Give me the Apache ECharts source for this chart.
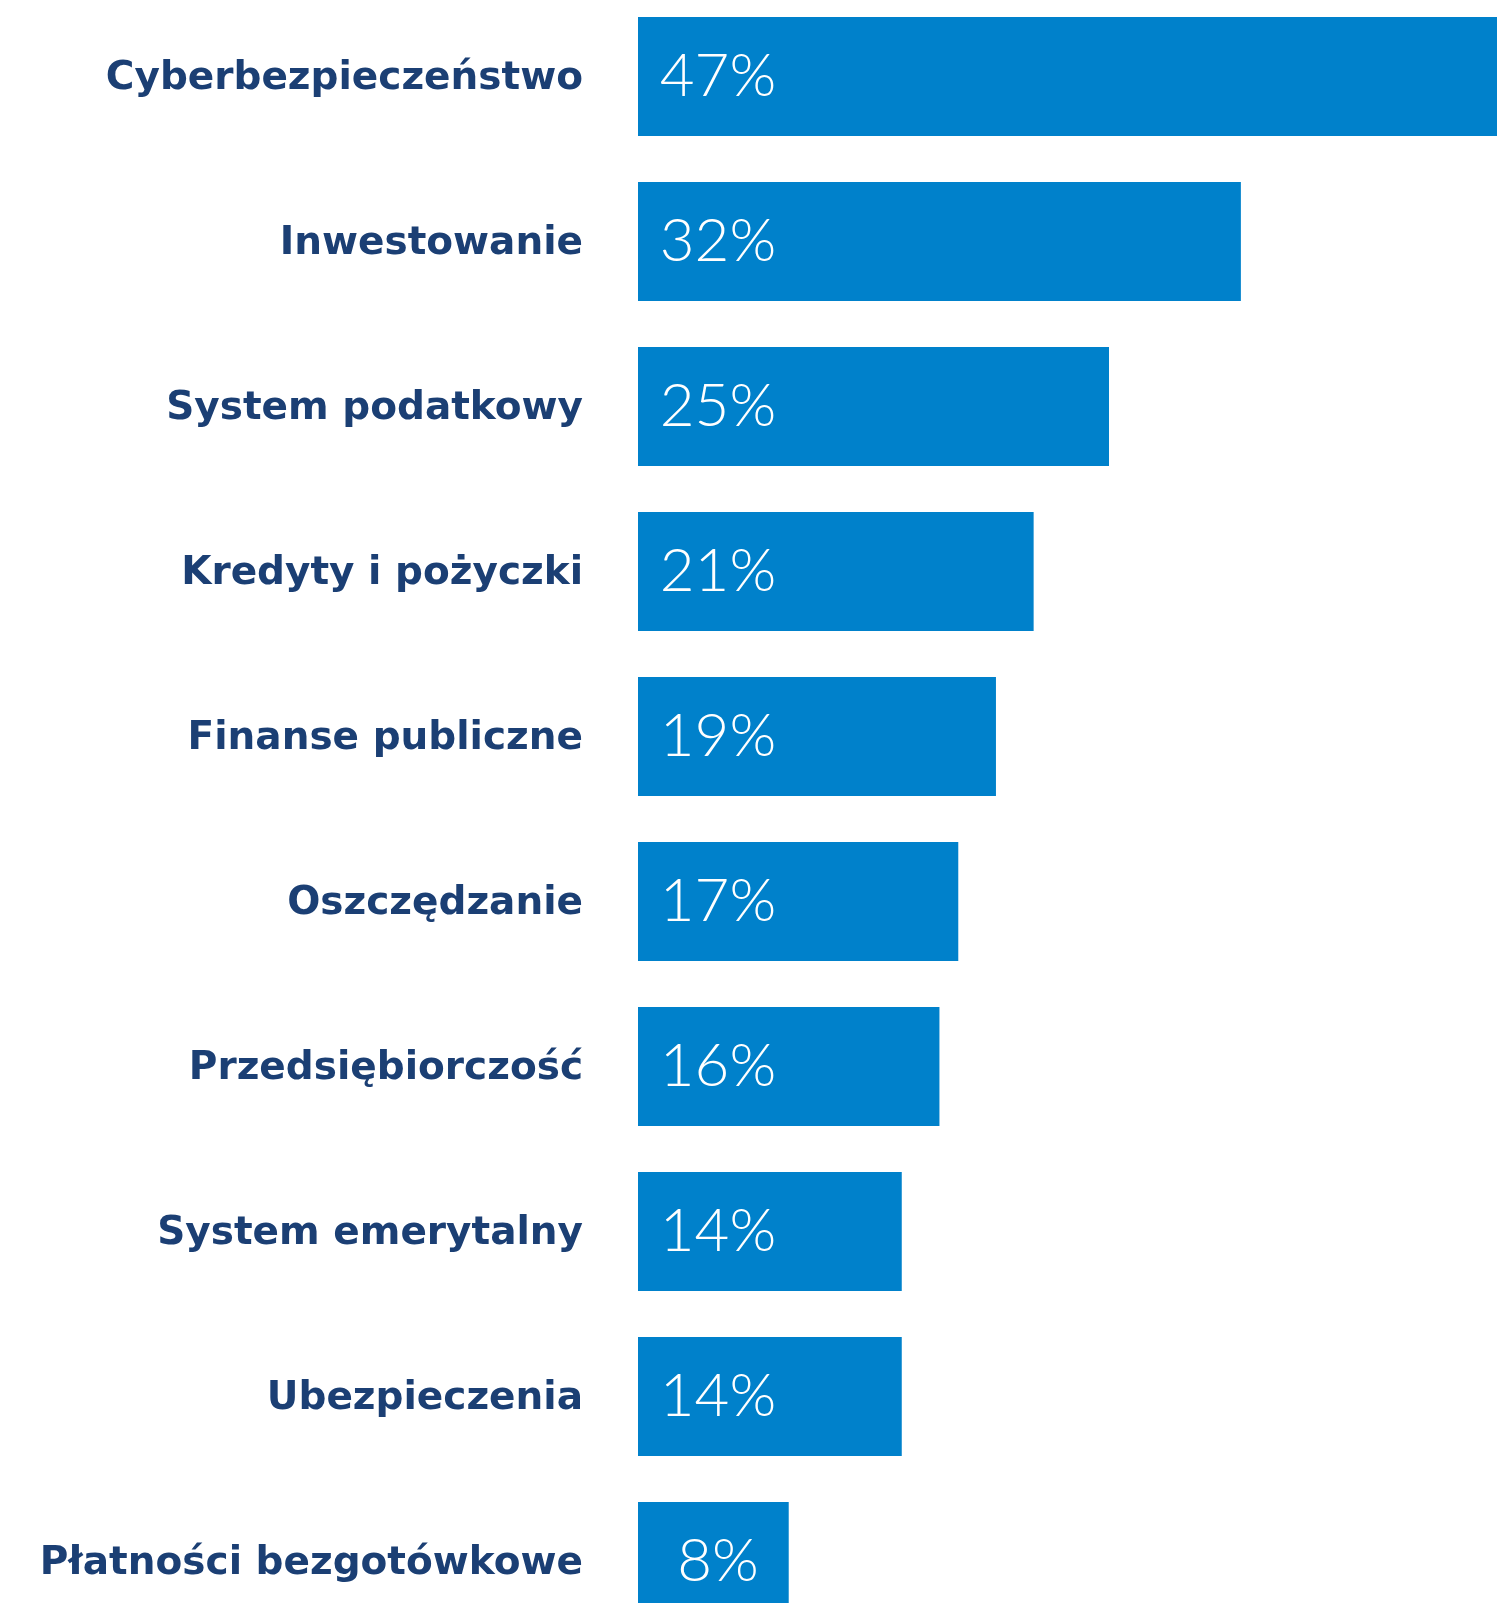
<!DOCTYPE html>
<html>
<head>
<meta charset="utf-8">
<script src="https://cdn.jsdelivr.net/npm/echarts@6/dist/echarts.min.js"></script>
<style>
html,body{margin:0;padding:0;background:#fff;overflow:hidden;width:1497px;height:1603px;position:relative;}
#chart{position:absolute;left:0;top:-6px;width:1580px;height:1650px;}
</style>
</head>
<body>
<div id="chart"></div>
<script>
const categories = ["Cyberbezpieczeństwo","Inwestowanie","System podatkowy","Kredyty i pożyczki","Finanse publiczne","Oszczędzanie","Przedsiębiorczość","System emerytalny","Ubezpieczenia","Płatności bezgotówkowe"];
const values = [47,32,25,21,19,17,16,14,14,8];

const chart = echarts.init(document.getElementById('chart'));
chart.setOption({
  animation:false,
  backgroundColor:'#ffffff',
  grid:{left:638,right:0,top:0,bottom:0},
  xAxis:{type:'value',min:0,max:50,show:false},
  yAxis:{
    type:'category',data:categories,inverse:true,
    axisLine:{show:false},axisTick:{show:false},splitLine:{show:false},
    axisLabel:{margin:55,formatter:function(v){return '{a|'+v+'}';},
      rich:{a:{color:'#1b3f74',fontFamily:'DejaVu Sans',fontWeight:'bold',fontSize:39,padding:[5,0,0,0]}}}
  },
  series:[{
    type:'bar',data:values,barWidth:119,
    itemStyle:{color:'#0081cb'},
    label:{show:true,position:[80,'50%'],align:'center',verticalAlign:'middle',
      formatter:'{c}%',color:'#ffffff',fontFamily:'Lato',fontWeight:300,fontSize:60}
  }]
});
</script>
</body>
</html>
